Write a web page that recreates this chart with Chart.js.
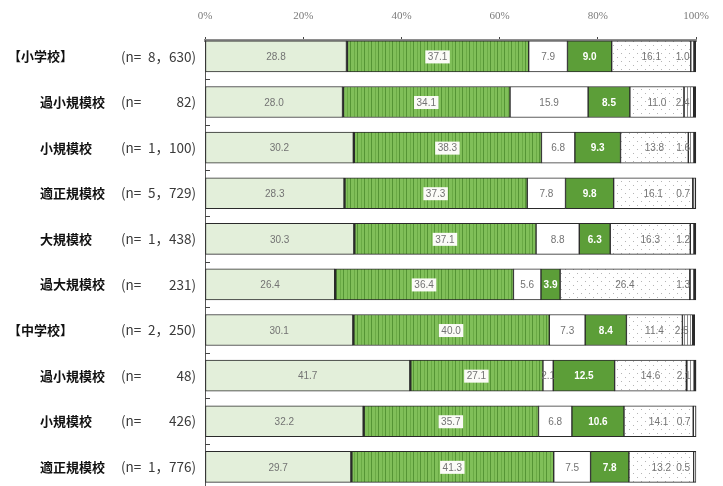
<!DOCTYPE html>
<html lang="ja">
<head>
<meta charset="utf-8">
<script src="https://cdn.jsdelivr.net/npm/chart.js@4/dist/chart.umd.min.js"></script>
<style>
  html, body { margin: 0; padding: 0; background: #fff; }
  #wrap { width: 723px; height: 486px; position: relative; }
</style>
</head>
<body>
<div id="wrap"><canvas id="chart"></canvas></div>
<script>
// School groups and sizes, top to bottom
const categories = ['【小学校】', '過小規模校', '小規模校', '適正規模校', '大規模校', '過大規模校',
                    '【中学校】', '過小規模校', '小規模校', '適正規模校'];
const sampleSizes = ['8，630', '82', '1，100', '5，729', '1，438', '231', '2，250', '48', '426', '1，776'];

// Answer shares (%) per row, one array per stacked segment
const share1 = [28.8, 28.0, 30.2, 28.3, 30.3, 26.4, 30.1, 41.7, 32.2, 29.7];
const share2 = [37.1, 34.1, 38.3, 37.3, 37.1, 36.4, 40.0, 27.1, 35.7, 41.3];
const share3 = [7.9, 15.9, 6.8, 7.8, 8.8, 5.6, 7.3, 2.1, 6.8, 7.5];
const share4 = [9.0, 8.5, 9.3, 9.8, 6.3, 3.9, 8.4, 12.5, 10.6, 7.8];
const share5 = [16.1, 11.0, 13.8, 16.1, 16.3, 26.4, 11.4, 14.6, 14.1, 13.2];
const share6 = [1.0, 2.4, 1.6, 0.7, 1.2, 1.3, 2.5, 2.1, 0.7, 0.5];

const xTicks = [0, 20, 40, 60, 80, 100];

// Small repeating fills for the patterned segments
function makePattern(w, h, draw) {
  const c = document.createElement('canvas');
  c.width = w;
  c.height = h;
  const g = c.getContext('2d');
  draw(g);
  return g.createPattern(c, 'repeat');
}

const hatchGreen = makePattern(7, 4, g => {
  g.fillStyle = '#80bf59';
  g.fillRect(0, 0, 7, 4);
  g.fillStyle = '#559535';
  g.fillRect(0, 0, 1, 4);
  g.fillStyle = '#6aaa45';
  g.fillRect(4, 0, 1, 4);
});

const dotted = makePattern(8, 8, g => {
  g.fillStyle = '#ffffff';
  g.fillRect(0, 0, 8, 8);
  g.fillStyle = '#b5b5b5';
  g.fillRect(1, 1, 1, 1);
  g.fillRect(5, 5, 1, 1);
});

const striped = makePattern(3, 4, g => {
  g.fillStyle = '#ffffff';
  g.fillRect(0, 0, 3, 4);
  g.fillStyle = '#8a8a8a';
  g.fillRect(0, 0, 1, 4);
});

const toPoints = arr => arr.map((v, i) => ({ x: v, y: i }));

const EDGE = '#2a2a2a';
const datasets = [
  { label: 'A', data: toPoints(share1), backgroundColor: '#e3efda', borderWidth: 1 },
  { label: 'B', data: toPoints(share2), backgroundColor: hatchGreen, borderWidth: { left: 2, right: 1, top: 1, bottom: 1 } },
  { label: 'C', data: toPoints(share3), backgroundColor: '#ffffff', borderWidth: 1 },
  { label: 'D', data: toPoints(share4), backgroundColor: '#5c9e38', borderWidth: 1 },
  { label: 'E', data: toPoints(share5), backgroundColor: dotted, borderWidth: 1 },
  { label: 'F', data: toPoints(share6), backgroundColor: striped, borderWidth: { left: 1, right: 3, top: 1, bottom: 1 } }
].map(d => Object.assign(d, { borderColor: EDGE, borderSkipped: false, barThickness: 31 }));

// Value text inside each segment
const valueLabels = {
  id: 'valueLabels',
  afterDatasetsDraw(chart) {
    const ctx = chart.ctx;
    ctx.save();
    ctx.textBaseline = 'middle';
    ctx.textAlign = 'center';
    chart.data.datasets.forEach((ds, di) => {
      const meta = chart.getDatasetMeta(di);
      meta.data.forEach((bar, i) => {
        const v = ds.data[i].x.toFixed(1);
        const left = Math.min(bar.x, bar.base);
        const right = Math.max(bar.x, bar.base);
        let cx = (left + right) / 2;
        const cy = bar.y + 1;
        ctx.font = '10px "Liberation Sans", sans-serif';
        ctx.fillStyle = '#737373';
        if (di === 1) {
          const w = ctx.measureText(v).width + 5;
          ctx.fillStyle = '#fbfbf7';
          ctx.fillRect(cx - w / 2, cy - 7, w, 13);
          ctx.fillStyle = '#737373';
        } else if (di === 3) {
          ctx.font = 'bold 10px "Liberation Sans", sans-serif';
          ctx.fillStyle = '#ffffff';
        } else if (di === 5) {
          cx = right - 13;
        }
        ctx.fillText(v, cx, cy);
      });
    });
    ctx.restore();
  }
};

// Row captions on the left and short marks between rows on the axis
const rowCaptions = {
  id: 'rowCaptions',
  afterDraw(chart) {
    const ctx = chart.ctx;
    const y = chart.scales.y;
    const left = chart.chartArea.left;
    ctx.save();
    ctx.textBaseline = 'middle';
    categories.forEach((name, i) => {
      const py = y.getPixelForValue(i);
      const header = name.startsWith('【');
      ctx.font = 'bold 13px "Noto Sans CJK JP", sans-serif';
      ctx.fillStyle = '#111';
      ctx.textAlign = 'left';
      ctx.fillText(name, header ? 8 : 40, py);
      ctx.font = '13.5px "Noto Sans CJK JP", sans-serif';
      ctx.fillStyle = '#3a3a3a';
      ctx.fillText('(n=', 121, py);
      ctx.textAlign = 'right';
      ctx.fillText(sampleSizes[i] + ')', 196, py);
    });
    ctx.strokeStyle = '#444';
    ctx.lineWidth = 1;
    for (let i = 0; i < categories.length - 1; i++) {
      const py = Math.round(y.getPixelForValue(i + 0.5)) + 0.5;
      ctx.beginPath();
      ctx.moveTo(left, py);
      ctx.lineTo(left + 5, py);
      ctx.stroke();
    }
    ctx.restore();
  }
};

new Chart(document.getElementById('chart'), {
  type: 'bar',
  data: { datasets: datasets },
  options: {
    indexAxis: 'y',
    responsive: true,
    maintainAspectRatio: false,
    animation: false,
    layout: { padding: { left: 0, right: 26, top: 0, bottom: 0 } },
    scales: {
      x: {
        type: 'linear',
        position: 'top',
        stacked: true,
        min: 0,
        max: 100,
        afterBuildTicks: scale => { scale.ticks = xTicks.map(v => ({ value: v })); },
        afterFit: scale => { scale.height = 40; },
        ticks: {
          padding: 14,
          color: '#7a7a7a',
          font: { family: '"Liberation Serif", serif', size: 11 },
          callback: v => v + '%'
        },
        grid: { drawOnChartArea: false, drawTicks: true, tickLength: 3, color: '#444' },
        border: { display: true, color: '#8e8e8e', width: 3 }
      },
      y: {
        type: 'linear',
        stacked: true,
        reverse: true,
        offset: false,
        min: -0.36,
        max: 9.42,
        afterFit: scale => { scale.width = 205; },
        ticks: { display: false },
        grid: { display: false, offset: false },
        border: { display: true, color: '#555', width: 1 }
      }
    },
    plugins: {
      legend: { display: false },
      tooltip: { enabled: false }
    }
  },
  plugins: [valueLabels, rowCaptions]
});
</script>
</body>
</html>
